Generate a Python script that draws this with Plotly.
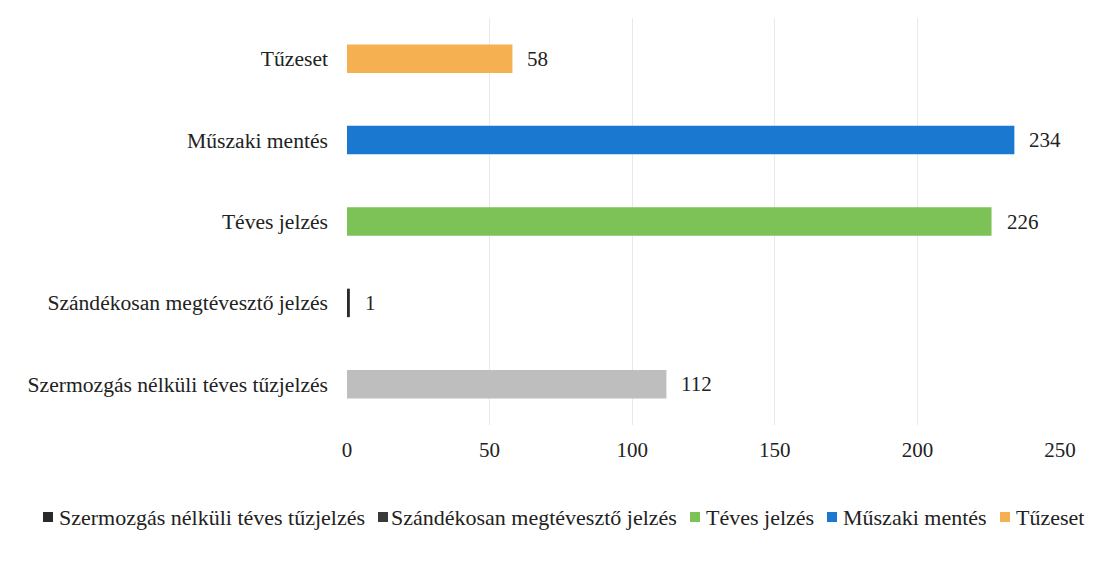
import plotly.graph_objects as go

categories = ["Szermozgás nélküli téves tűzjelzés", "Szándékosan megtévesztő jelzés",
              "Téves jelzés", "Műszaki mentés", "Tűzeset"]
values = [112, 1, 226, 234, 58]
bar_colors = ["#BEBEBE", "#2A2A2A", "#7CC257", "#1A78D0", "#F5B052"]
legend_colors = ["#2A2A2A", "#3A3A3A", "#7CC257", "#1A78D0", "#F5B052"]
x_ticks = [0, 50, 100, 150, 200, 250]

font_family = "Liberation Serif, Times New Roman, serif"

W, H = 1105, 565
ML, MR, MT, MB = 339, 53, 10, 148
PW, PH = W - ML - MR, H - MT - MB


def px_x(p):
    return (p - ML) / PW


def px_y(p):
    return (H - MB - p) / PH


fig = go.Figure()
for cat, val, col in zip(categories, values, bar_colors):
    fig.add_trace(go.Bar(
        y=[cat], x=[val], orientation="h", name=cat,
        marker=dict(color=col, line=dict(width=0)),
        width=0.35, showlegend=False,
    ))
    fig.add_annotation(x=val, y=cat, text=str(val), showarrow=False,
                       xanchor="left", xshift=13,
                       font=dict(family=font_family, size=21, color="#222"))

# legend drawn as colored squares + text entries along the bottom
legend_square_px = [40, 375, 687, 824, 997]
legend_text_px = [50, 382, 697, 834, 1007]
legend_y_px = 509
sq = 5
for cat, col, sx, tx in zip(categories, legend_colors, legend_square_px, legend_text_px):
    fig.add_shape(type="rect", xref="paper", yref="paper",
                  x0=px_x(sx - sq), x1=px_x(sx + sq),
                  y0=px_y(legend_y_px + sq), y1=px_y(legend_y_px - sq),
                  fillcolor=col, line=dict(width=0))
    fig.add_annotation(xref="paper", yref="paper", x=px_x(tx - 1), y=px_y(legend_y_px),
                       text=cat, showarrow=False, xanchor="left", yanchor="middle",
                       font=dict(family=font_family, size=22, color="#222"))

fig.update_layout(
    width=W, height=H,
    margin=dict(l=ML, r=MR, t=MT, b=MB, autoexpand=False),
    paper_bgcolor="white", plot_bgcolor="white",
    font=dict(family=font_family, size=21, color="#222"),
    barmode="overlay", showlegend=False,
    xaxis=dict(range=[0, 250], tickvals=x_ticks, showgrid=True, gridcolor="#E9E9E9",
               gridwidth=1, zeroline=False, showline=False, ticks="",
               tickfont=dict(size=21), ticklabelstandoff=10, automargin=False),
    yaxis=dict(categoryorder="array", categoryarray=categories, showgrid=False,
               zeroline=False, showline=False, ticks="", ticklabelstandoff=18,
               tickfont=dict(size=21.6), automargin=False),
)

fig.write_html("out.html")
